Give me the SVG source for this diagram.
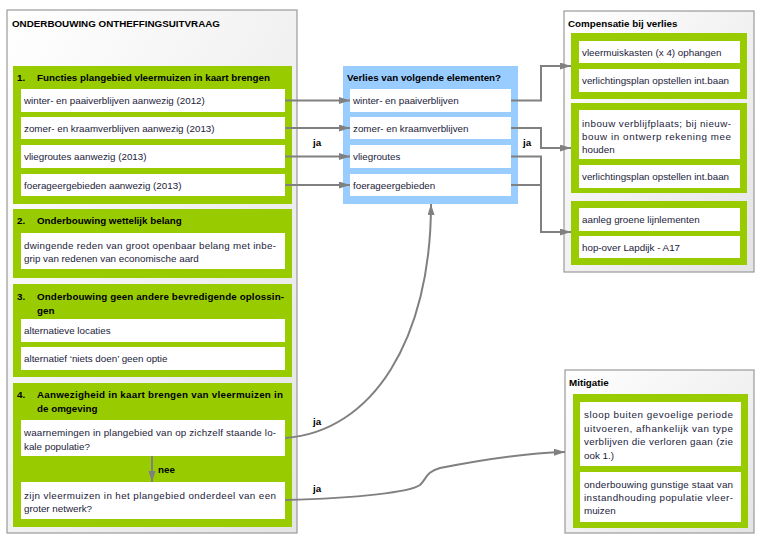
<svg xmlns="http://www.w3.org/2000/svg" width="762" height="540" viewBox="0 0 762 540">
<defs>
<linearGradient id="shade" x1="0" y1="0" x2="1" y2="1">
<stop offset="0" stop-color="#ffffff"/>
<stop offset="1" stop-color="#e4e4e4"/>
</linearGradient>
<marker id="arr" markerUnits="userSpaceOnUse" markerWidth="12" markerHeight="8" refX="11" refY="3.5" orient="auto">
<path d="M0,0 L11,3.5 L0,7 z" fill="#808080"/>
</marker>
</defs>
<style>
.cont{fill:url(#shade);stroke:#9a9a9a;stroke-width:1.2}
.green{fill:#99cc00}
.blue{fill:#99ccff}
.box{fill:#ffffff}
text{font-family:"Liberation Sans",Arial,sans-serif;font-size:9.8px;fill:#22223a}
.h{font-weight:bold;fill:#000}
.ja{font-weight:bold;fill:#000}
.con{fill:none;stroke:#808080;stroke-width:2}
</style>
<rect width="762" height="540" fill="#ffffff"/>

<g id="left-container">
<rect class="cont" x="7" y="10" width="290" height="523"/>
<text class="h" x="12" y="27">ONDERBOUWING ONTHEFFINGSUITVRAAG</text>
</g>

<g id="section1">
<rect class="green" x="13" y="66" width="279" height="138"/>
<text class="h" x="17" y="81">1.</text>
<text class="h" x="37" y="81">Functies plangebied vleermuizen in kaart brengen</text>
<rect class="box" x="21" y="89" width="264" height="23"/>
<text x="24" y="104">winter- en paaiverblijven aanwezig (2012)</text>
<rect class="box" x="21" y="117" width="264" height="22"/>
<text x="24" y="132">zomer- en kraamverblijven aanwezig (2013)</text>
<rect class="box" x="21" y="145" width="264" height="23"/>
<text x="24" y="160">vliegroutes aanwezig (2013)</text>
<rect class="box" x="21" y="174" width="264" height="22"/>
<text x="24" y="189">foerageergebieden aanwezig (2013)</text>
</g>

<g id="section2">
<rect class="green" x="13" y="209" width="279" height="69"/>
<text class="h" x="17" y="224">2.</text>
<text class="h" x="37" y="224">Onderbouwing wettelijk belang</text>
<rect class="box" x="21" y="233" width="264" height="36"/>
<text x="24" y="249" textLength="252" lengthAdjust="spacing">dwingende reden van groot openbaar belang met inbe-</text>
<text x="24" y="262">grip van redenen van economische aard</text>
</g>

<g id="section3">
<rect class="green" x="13" y="284" width="279" height="93"/>
<text class="h" x="17" y="300">3.</text>
<text class="h" x="37" y="300" textLength="247" lengthAdjust="spacing">Onderbouwing geen andere bevredigende oplossin-</text>
<text class="h" x="37" y="314">gen</text>
<rect class="box" x="21" y="319" width="264" height="23"/>
<text x="24" y="334">alternatieve locaties</text>
<rect class="box" x="21" y="347" width="264" height="23"/>
<text x="24" y="362">alternatief ‘niets doen’ geen optie</text>
</g>

<g id="section4">
<rect class="green" x="13" y="383" width="279" height="144"/>
<text class="h" x="17" y="398">4.</text>
<text class="h" x="37" y="398" textLength="246" lengthAdjust="spacing">Aanwezigheid in kaart brengen van vleermuizen in</text>
<text class="h" x="37" y="412">de omgeving</text>
<rect class="box" x="21" y="420" width="264" height="36"/>
<text x="24" y="436" textLength="252" lengthAdjust="spacing">waarnemingen in plangebied van op zichzelf staande lo-</text>
<text x="24" y="450">kale populatie?</text>
<rect class="box" x="21" y="482" width="264" height="37"/>
<text x="24" y="499" textLength="252" lengthAdjust="spacing">zijn vleermuizen in het plangebied onderdeel van een</text>
<text x="24" y="512">groter netwerk?</text>
</g>

<g id="verlies">
<rect class="blue" x="343" y="66" width="175" height="138"/>
<text class="h" x="347" y="81">Verlies van volgende elementen?</text>
<rect class="box" x="350" y="89" width="161" height="23"/>
<text x="353" y="104">winter- en paaiverblijven</text>
<rect class="box" x="350" y="117" width="161" height="22"/>
<text x="353" y="132">zomer- en kraamverblijven</text>
<rect class="box" x="350" y="145" width="161" height="23"/>
<text x="353" y="160">vliegroutes</text>
<rect class="box" x="350" y="174" width="161" height="22"/>
<text x="353" y="189">foerageergebieden</text>
</g>

<g id="compensatie">
<rect class="cont" x="564" y="11" width="190" height="261"/>
<text class="h" x="568" y="27">Compensatie bij verlies</text>
<rect class="green" x="571" y="33" width="176" height="66"/>
<rect class="box" x="579" y="41" width="161" height="22"/>
<text x="582" y="56">vleermuiskasten (x 4) ophangen</text>
<rect class="box" x="579" y="69" width="161" height="23"/>
<text x="582" y="84">verlichtingsplan opstellen int.baan</text>
<rect class="green" x="571" y="103" width="176" height="90"/>
<rect class="box" x="579" y="110" width="161" height="49"/>
<text x="582" y="127" textLength="149" lengthAdjust="spacing">inbouw verblijfplaats; bij nieuw-</text>
<text x="582" y="140" textLength="149" lengthAdjust="spacing">bouw in ontwerp rekening mee</text>
<text x="582" y="153">houden</text>
<rect class="box" x="579" y="165" width="161" height="23"/>
<text x="582" y="180">verlichtingsplan opstellen int.baan</text>
<rect class="green" x="571" y="201" width="176" height="64"/>
<rect class="box" x="579" y="208" width="161" height="23"/>
<text x="582" y="223">aanleg groene lijnlementen</text>
<rect class="box" x="579" y="236" width="161" height="22"/>
<text x="582" y="251">hop-over Lapdijk - A17</text>
</g>

<g id="mitigatie">
<rect class="cont" x="565" y="370" width="189" height="163"/>
<text class="h" x="569" y="386">Mitigatie</text>
<rect class="green" x="573" y="394" width="175" height="134"/>
<rect class="box" x="580" y="402" width="161" height="64"/>
<text x="584" y="418" textLength="149" lengthAdjust="spacing">sloop buiten gevoelige periode</text>
<text x="584" y="431.5" textLength="149" lengthAdjust="spacing">uitvoeren, afhankelijk van type</text>
<text x="584" y="445" textLength="149" lengthAdjust="spacing">verblijven die verloren gaan (zie</text>
<text x="584" y="458.5">ook 1.)</text>
<rect class="box" x="580" y="472" width="161" height="50"/>
<text x="584" y="488" textLength="149" lengthAdjust="spacing">onderbouwing gunstige staat van</text>
<text x="584" y="501" textLength="149" lengthAdjust="spacing">instandhouding populatie vleer-</text>
<text x="584" y="514">muizen</text>
</g>

<g id="connectors">
<line class="con" x1="285" y1="100.5" x2="350" y2="100.5" marker-end="url(#arr)"/>
<line class="con" x1="285" y1="128" x2="350" y2="128" marker-end="url(#arr)"/>
<line class="con" x1="285" y1="156.5" x2="350" y2="156.5" marker-end="url(#arr)"/>
<line class="con" x1="285" y1="185" x2="350" y2="185" marker-end="url(#arr)"/>
<text class="ja" x="313" y="146">ja</text>
<polyline class="con" points="511,100.5 541,100.5 541,66 571,66" marker-end="url(#arr)"/>
<polyline class="con" points="511,128 541,128 541,148 571,148" marker-end="url(#arr)"/>
<polyline class="con" points="511,156.5 541,156.5 541,232 571,232" marker-end="url(#arr)"/>
<polyline class="con" points="511,185 541,185"/>
<text class="ja" x="523" y="146">ja</text>
<path class="con" d="M285,438 C372,432 431,340 431,204" marker-end="url(#arr)"/>
<text class="ja" x="313" y="425">ja</text>
<line class="con" x1="152" y1="456" x2="152" y2="482" marker-end="url(#arr)"/>
<text class="ja" x="158" y="473">nee</text>
<path class="con" d="M285,500 C360,498 410,492 420,485 C427,478 426,472 440,468 C490,458 530,453 565,452" marker-end="url(#arr)"/>
<text class="ja" x="313" y="492">ja</text>
</g>
</svg>
